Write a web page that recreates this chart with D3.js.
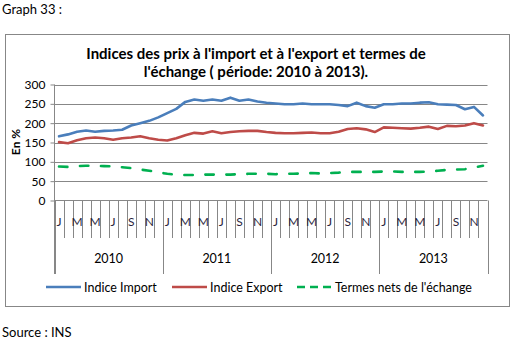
<!DOCTYPE html>
<html lang="fr">
<head>
<meta charset="utf-8">
<title>Graph 33</title>
<script src="https://d3js.org/d3.v7.min.js"></script>
<style>
  body { margin: 0; background: #fff; }
  svg text { font-family: Lato, "Open Sans", sans-serif; fill: #000; }
</style>
</head>
<body>
<script>
// monthly series, Jan 2010 .. Dec 2013
var years = ["2010", "2011", "2012", "2013"];
var monthLabels = ["J", "", "M", "", "M", "", "J", "", "S", "", "N", ""];
var yTicks = [0, 50, 100, 150, 200, 250, 300];

var importIdx = [166, 171, 178, 181, 178, 180, 181, 183, 194, 200, 206, 215,
                 226, 237, 255, 261, 258, 261, 258, 266, 258, 261, 256, 253,
                 251, 249, 249, 251, 249, 249, 249, 247, 244, 253, 244, 240,
                 249, 249, 251, 251, 253, 254, 249, 248, 247, 236, 242, 220];
var exportIdx = [151, 148, 156, 161, 163, 161, 157, 161, 163, 166, 161, 157,
                 155, 161, 169, 175, 173, 179, 174, 177, 179, 180, 180, 177,
                 175, 174, 174, 175, 176, 174, 174, 178, 185, 187, 184, 177,
                 189, 188, 187, 186, 188, 191, 185, 193, 192, 194, 200, 194];
var termes = [88, 87, 89, 90, 90, 89, 88, 86, 84, 80, 77, 73,
              69, 67, 66, 66, 67, 67, 67, 67, 68, 69, 69, 69,
              68, 69, 69, 70, 71, 70, 71, 72, 74, 74, 74, 74,
              75, 75, 74, 74, 74, 75, 77, 79, 80, 81, 85, 90];

var series = [
  { name: "Indice Import", values: importIdx, color: "#4A7EBB", dash: null },
  { name: "Indice Export", values: exportIdx, color: "#BE4B48", dash: null },
  { name: "Termes nets de l'échange", values: termes, color: "#00B050", dash: "8.4,12.6" }
];

var width = 511, height = 340;
var plotL = 54.5, plotR = 487.5, plotT = 84.5, plotB = 200.5;
var axisFoot = 274;

var svg = d3.select("body").append("svg")
  .attr("width", width)
  .attr("height", height);

svg.append("text")
  .attr("x", 2).attr("y", 14)
  .style("font-size", "13px")
  .text("Graph 33 :");

svg.append("text")
  .attr("x", 2).attr("y", 337)
  .style("font-size", "13px")
  .text("Source : INS");

// chart frame
svg.append("rect")
  .attr("x", 5.5).attr("y", 34.5)
  .attr("width", 504).attr("height", 272)
  .attr("fill", "#fff")
  .attr("stroke", "#878787");

var title = svg.append("text")
  .attr("text-anchor", "middle")
  .style("font-size", "15px")
  .style("font-weight", "bold");
title.append("tspan").attr("x", 256).attr("y", 59)
  .text("Indices des prix à l'import et à l'export et termes de");
title.append("tspan").attr("x", 256).attr("y", 77)
  .text("l'échange ( période: 2010 à 2013).");

var months = d3.range(importIdx.length);
var x = d3.scaleBand().domain(months).range([plotL, plotR]);
var y = d3.scaleLinear().domain([0, 300]).range([plotB, plotT]);

// gridlines
svg.append("g").selectAll("line")
  .data(yTicks.filter(function(d) { return d > 0; }))
  .join("line")
  .attr("x1", plotL).attr("x2", plotR)
  .attr("y1", function(d) { return Math.round(y(d)) + 0.5; })
  .attr("y2", function(d) { return Math.round(y(d)) + 0.5; })
  .attr("stroke", "#878787");

// y axis
var yAxis = svg.append("g")
  .attr("transform", "translate(" + plotL + ",0)")
  .call(d3.axisLeft(y).tickValues(yTicks).tickSize(4).tickPadding(5));
yAxis.select(".domain").remove();
yAxis.selectAll("line").attr("stroke", "#878787");
yAxis.selectAll("text").style("font-size", "12px").style("font-family", "Lato, sans-serif");

svg.append("line")
  .attr("x1", plotL).attr("x2", plotL)
  .attr("y1", plotT).attr("y2", axisFoot)
  .attr("stroke", "#878787");

svg.append("text")
  .attr("transform", "translate(20,142) rotate(-90)")
  .attr("text-anchor", "middle")
  .style("font-size", "12px")
  .style("font-weight", "bold")
  .text("En %");

// x axis: month boundaries, year boundaries
svg.append("line")
  .attr("x1", plotL).attr("x2", plotR)
  .attr("y1", plotB).attr("y2", plotB)
  .attr("stroke", "#878787");

var edges = d3.range(importIdx.length + 1);
svg.append("g").selectAll("line")
  .data(edges)
  .join("line")
  .attr("x1", function(i) { return Math.round(plotL + i * x.bandwidth()) + 0.5; })
  .attr("x2", function(i) { return Math.round(plotL + i * x.bandwidth()) + 0.5; })
  .attr("y1", plotB)
  .attr("y2", function(i) { return i % 12 === 0 ? axisFoot : 238; })
  .attr("stroke", "#878787");

svg.append("g").selectAll("text")
  .data(months)
  .join("text")
  .attr("x", function(i) { return x(i) + x.bandwidth() / 2; })
  .attr("y", 226)
  .attr("text-anchor", "middle")
  .style("font-size", "12px")
  .style("fill", "#2b1f3d")
  .text(function(i) { return monthLabels[i % 12]; });

svg.append("g").selectAll("text")
  .data(years)
  .join("text")
  .attr("x", function(d, k) { return x(k * 12) + 6 * x.bandwidth(); })
  .attr("y", 263)
  .attr("text-anchor", "middle")
  .style("font-size", "12.5px")
  .text(function(d) { return d; });

// lines
var line = d3.line()
  .x(function(d, i) { return x(i) + x.bandwidth() / 2; })
  .y(function(d) { return y(d); });

svg.append("g").selectAll("path")
  .data(series)
  .join("path")
  .attr("d", function(s) { return line(s.values); })
  .attr("fill", "none")
  .attr("stroke", function(s) { return s.color; })
  .attr("stroke-width", 2.6)
  .attr("stroke-linejoin", "round")
  .attr("stroke-linecap", "round")
  .attr("stroke-dasharray", function(s) { return s.dash; });

// legend
var legendX = [46, 172, 297];
var legend = svg.append("g").selectAll("g")
  .data(series)
  .join("g")
  .attr("transform", function(s, k) { return "translate(" + legendX[k] + ",287)"; });
legend.append("line")
  .attr("x1", 0).attr("x2", 35)
  .attr("stroke", function(s) { return s.color; })
  .attr("stroke-width", 2.6)
  .attr("stroke-dasharray", function(s) { return s.dash ? "8,5" : null; });
legend.append("text")
  .attr("x", 38).attr("y", 4.5)
  .style("font-size", "12.5px")
  .text(function(s) { return s.name; });
</script>
</body>
</html>
